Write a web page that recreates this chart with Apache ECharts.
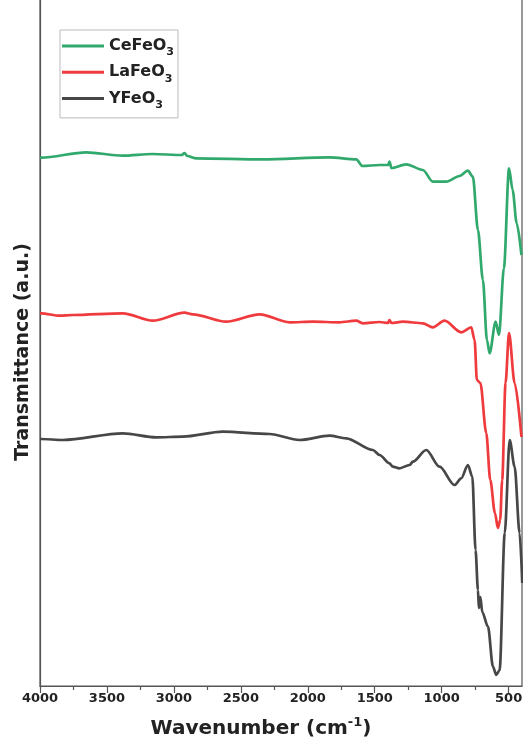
<!DOCTYPE html>
<html><head><meta charset="utf-8">
<script src="https://cdn.jsdelivr.net/npm/echarts@6/dist/echarts.min.js"></script>
<style>html,body{margin:0;padding:0;background:#fff}#c{width:523px;height:747px}</style>
</head><body><div id="c"></div><script>
// Wavenumber (cm-1) and transmittance (a.u.)
var ceWave = [4000, 3991, 3655, 3384, 3160, 2940, 2921, 2900, 2833, 2338, 1838, 1638, 1591, 1464, 1400, 1390, 1375, 1264, 1140, 1066, 966, 866, 804, 767, 729, 692, 662, 642, 597, 572, 535, 497, 470, 440, 404];
var ceT = [528, 528.3, 533.7, 530.3, 532, 531, 533, 530, 527.7, 526.7, 528.7, 526.7, 520, 521, 521, 524.3, 518, 521.7, 516, 504.3, 504.3, 510, 515.3, 509.3, 456, 406, 346, 332.7, 364.3, 351, 418, 517.7, 496, 463, 431];

var laWave = [4000, 3991, 3854, 3755, 3381, 3157, 2921, 2859, 2609, 2360, 2136, 1962, 1763, 1638, 1589, 1464, 1400, 1390, 1375, 1290, 1140, 1066, 979, 854, 779, 754, 737, 711, 667, 637, 602, 580, 563, 548, 523, 497, 455, 404];
var laT = [373, 372.7, 370.3, 371, 372.7, 365.3, 373.3, 371.7, 364.3, 371.7, 363.7, 364.3, 363.7, 365.3, 362.7, 364, 363, 366, 363, 364.3, 362.7, 358.7, 365.3, 353.7, 358.7, 346, 306, 303, 253, 206, 173, 158, 166, 206, 303, 353, 303, 249];

var yWave = [4000, 3991, 3830, 3381, 3132, 2933, 2634, 2286, 2062, 1838, 1713, 1514, 1464, 1390, 1365, 1315, 1240, 1215, 1115, 1016, 904, 854, 804, 771, 747, 729, 722, 711, 697, 654, 617, 592, 567, 529, 492, 455, 418, 398];
var yT = [247, 247, 246, 252.7, 248.7, 249.3, 254.3, 252, 246, 250.3, 247.7, 236, 231, 222.7, 219.3, 217.7, 221, 224.3, 236, 219.3, 201, 207.7, 221, 209.3, 136, 96, 78, 89, 74, 59.3, 19.3, 11, 16, 153, 246, 219.3, 153, 103];

var majorTicks = [4000, 3500, 3000, 2500, 2000, 1500, 1000, 500];
var minorTicks = [3750, 3250, 2750, 2250, 1750, 1250, 750];
var seriesNames = ['CeFeO3', 'LaFeO3', 'YFeO3'];
var seriesColors = ['#32a96c', '#ef3b3d', '#474747'];

function zip(a, b) { return a.map(function (v, i) { return [v, b[i]]; }); }
var datasets = [zip(ceWave, ceT), zip(laWave, laT), zip(yWave, yT)];

var FONT = 'DejaVu Sans';
var chart = echarts.init(document.getElementById('c'), null, { renderer: 'canvas' });
var axisColor = '#555';

chart.setOption({
  animation: false,
  backgroundColor: '#fff',
  grid: { left: 40, right: 1, top: -2, bottom: 61, containLabel: false, outerBoundsMode: 'none', show: true, borderColor: axisColor, borderWidth: 1.2, backgroundColor: 'transparent' },
  legend: {
    orient: 'vertical', left: 60, top: 30,
    data: seriesNames,
    icon: 'rect', itemWidth: 42, itemHeight: 3, itemGap: 6.2,
    padding: [8, 4, 7.5, 2],
    borderColor: '#bbb', borderWidth: 1,
    formatter: function (n) { return '{a|' + n.slice(0, -1) + '}{s|' + n.slice(-1) + '}'; },
    textStyle: {
      fontFamily: FONT, color: '#222',
      rich: {
        a: { fontFamily: FONT, fontWeight: 'bold', fontSize: 16, lineHeight: 24, color: '#222' },
        s: { fontFamily: FONT, fontWeight: 'bold', fontSize: 11, lineHeight: 24, verticalAlign: 'bottom', color: '#222' }
      }
    }
  },
  xAxis: [{
    type: 'value', inverse: true, min: 400, max: 4000,
    axisLine: { show: true, lineStyle: { color: axisColor, width: 1.2 } },
    axisTick: { show: true, inside: false, length: 7, customValues: majorTicks, lineStyle: { color: axisColor, width: 1.2 } },
    axisLabel: { show: true, customValues: majorTicks, margin: 6, fontFamily: FONT, fontWeight: 'bold', fontSize: 13, color: '#222',
      formatter: function (v) { return String(v); } },
    splitLine: { show: false },
    name: '{a|Wavenumber (cm}{p|-1}{a|)}',
    nameLocation: 'middle', nameGap: 30,
    nameTextStyle: {
      padding: [0, 40, 0, 0],
      rich: {
        a: { fontFamily: FONT, fontWeight: 'bold', fontSize: 20, lineHeight: 26, color: '#222' },
        p: { fontFamily: FONT, fontWeight: 'bold', fontSize: 13, lineHeight: 26, verticalAlign: 'top', color: '#222' }
      }
    }
  }, {
    type: 'value', inverse: true, min: 400, max: 4000, position: 'bottom', gridIndex: 0,
    axisLine: { show: false },
    axisTick: { show: true, inside: false, length: 4, customValues: minorTicks, lineStyle: { color: axisColor, width: 1.2 } },
    axisLabel: { show: false },
    splitLine: { show: false }
  }],
  yAxis: {
    type: 'value', min: 0, max: 688,
    axisLine: { show: true, lineStyle: { color: axisColor, width: 1.2 } },
    axisTick: { show: false }, axisLabel: { show: false }, splitLine: { show: false },
    name: 'Transmittance (a.u.)', nameLocation: 'middle', nameGap: 7,
    nameTextStyle: { fontFamily: FONT, fontWeight: 'bold', fontSize: 19, color: '#222', padding: [0, 20, 0, 0] }
  },
  series: seriesNames.map(function (n, i) {
    return {
      name: n, type: 'line', data: datasets[i], xAxisIndex: 0,
      showSymbol: false, smooth: 0.3, smoothMonotone: 'x',
      lineStyle: { color: seriesColors[i], width: 2.7 },
      itemStyle: { color: seriesColors[i] },
      z: 3 - i
    };
  })
});
</script></body></html>
